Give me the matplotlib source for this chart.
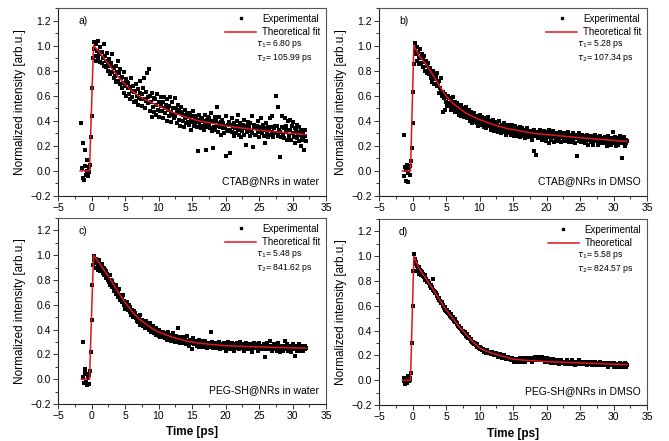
import matplotlib
matplotlib.use("Agg")
import matplotlib.pyplot as plt
from matplotlib.lines import Line2D
from matplotlib.ticker import MultipleLocator
import numpy as np

plt.rcParams['font.family'] = ['Liberation Sans', 'DejaVu Sans']

# time grid of the pump-probe scans, -1.5 ... 32.0 ps in 0.1 ps steps
t_exp = np.round(np.arange(-1.5, 32.05, 0.1), 2)

# experimental points (hundredths of normalized intensity), one row per ps
exp_a = """
38 2 -6 22 -7 17 4 -3 9 0
-4 3 -1 5 27 44 66 90 97 103
92 101 88 96 104 90 93 99 87 95
95 86 90 101 84 92 88 83 94 86
80 89 84 77 86 93 79 83 74 82
76 84 71 79 88 72 78 69 81 74
66 75 70 62 79 68 73 60 71 66
70 61 67 57 74 64 59 68 63 55
64 56 69 60 53 65 58 72 62 57
61 52 66 57 74 50 63 56 78 59
54 81 48 60 55 43 62 51 58 47
57 45 53 61 49 43 55 48 59 52
48 55 42 59 50 46 53 40 57 49
52 44 59 47 39 55 45 50 42 58
44 50 38 47 53 41 49 36 46 51
47 40 45 35 49 42 38 46 43 39
43 37 46 40 33 44 39 48 36 41
38 44 35 41 16 39 45 36 42 34
42 36 40 33 45 38 17 41 35 43
37 42 34 39 46 32 18 40 35 43
33 40 36 51 31 38 43 35 29 39
41 34 38 30 36 12 44 33 37 32
39 33 14 37 42 31 35 28 38 34
36 30 40 33 45 29 35 38 27 34
32 37 29 41 34 21 36 31 39 33
35 28 38 32 44 30 19 34 37 29
34 29 36 40 31 27 35 33 42 30
31 37 28 34 22 33 38 30 35 27
33 42 29 35 31 44 27 34 30 36
60 30 36 28 51 33 11 31 27 35
44 29 34 26 42 31 36 25 33 40
28 41 33 25 36 30 39 27 34 22
32 26 37 29 24 35 31 20 33 27
25 31 17 28 33 24
"""

exp_b = """
nan nan 29 -4 3 -8 1 5 -2 -9
2 -3 4 8 18 38 63 85 96 102
93 99 88 95 90 85 97 91 86 93
90 83 92 87 80 88 84 78 86 81
77 82 74 79 71 80 76 69 78 73
75 68 78 70 62 72 66 74 63 60
47 63 58 49 61 55 59 52 60 54
58 52 56 49 54 59 50 53 47 55
50 54 47 52 45 51 48 53 44 49
46 50 43 48 45 51 42 47 44 49
44 40 47 42 38 45 41 46 39 43
41 38 44 36 42 39 45 37 40 43
37 41 35 42 38 34 40 36 43 38
36 40 33 38 35 41 37 32 39 36
34 38 31 36 40 33 35 30 37 34
35 31 38 33 29 36 34 37 30 33
32 35 29 34 37 31 33 28 36 32
30 34 28 33 31 35 27 32 29 34
31 28 33 26 32 30 34 27 31 29
29 32 27 31 25 30 33 16 28 30
13 28 31 26 30 33 27 29 25 31
30 26 32 28 24 29 31 27 33 22
28 31 25 29 27 32 23 28 30 26
27 30 24 29 26 31 28 23 27 30
28 25 30 24 27 29 26 31 23 28
26 29 23 28 25 30 27 22 26 29
27 12 28 24 30 25 26 23 29 24
25 28 22 27 24 29 26 21 27 25
26 23 28 24 27 21 25 29 24 26
24 27 21 26 23 28 25 22 26 24
25 22 27 23 26 20 24 28 23 25
23 26 21 25 31 24 22 27 20 24
24 21 26 22 25 28 23 10 25 22
27 23 20 25 22 24
"""

exp_c = """
nan nan 30 2 -3 5 8 -2 4 -5
1 -4 3 7 22 48 76 92 99 96
94 97 90 95 92 88 96 91 87 93
89 93 86 90 84 88 82 87 85 80
82 78 84 76 80 74 79 77 71 76
73 76 69 72 70 66 73 68 64 67
65 62 68 60 63 57 61 59 62 56
57 60 54 58 52 56 53 50 55 51
53 49 51 47 50 46 49 52 44 48
46 48 43 47 45 41 44 47 42 45
43 40 45 41 38 42 39 43 37 40
38 41 36 39 37 35 40 34 38 36
37 34 38 35 33 37 36 32 35 38
33 36 34 31 35 33 37 32 34 30
32 35 30 33 41 31 34 29 33 31
31 34 29 32 30 33 28 31 35 30
30 27 32 29 31 24 30 33 28 30
29 31 27 30 28 32 26 29 31 28
28 30 26 29 27 31 28 25 29 27
29 26 28 38 27 30 25 28 26 29
27 29 25 28 26 30 27 24 28 26
28 25 27 29 26 23 28 26 30 27
26 28 24 27 29 25 27 23 28 26
27 25 29 26 28 24 27 30 25 26
25 28 26 23 27 29 24 27 26 28
26 24 28 25 22 27 26 29 25 27
27 25 28 23 26 29 24 27 25 26
24 27 25 28 18 26 24 29 25 27
26 24 31 25 27 23 26 28 24 26
25 27 23 26 29 24 26 22 27 25
26 23 27 25 31 24 26 28 23 25
24 27 25 22 26 28 24 26 19 25
25 23 27 24 26 28 23 25 27 24
26 23 25 27 24 25
"""

exp_d = """
nan nan -1 2 -3 1 0 -2 3 1
-1 2 0 6 30 60 88 102 98 94
95 88 92 90 86 91 89 85 88 87
86 84 83 85 81 82 80 79 80 78
78 76 77 74 75 82 73 72 71 70
70 68 69 66 65 66 64 63 62 63
61 60 58 59 57 56 57 55 54 55
53 52 53 51 50 51 49 48 49 47
47 45 46 44 43 44 42 41 42 40
40 39 38 39 37 36 37 35 34 35
34 33 32 33 31 30 31 29 30 29
28 29 27 27 26 27 25 26 25 24
25 23 24 24 22 23 24 22 23 22
23 22 21 22 23 21 22 20 21 22
21 20 21 19 20 21 19 20 18 19
19 18 20 18 19 17 18 19 17 18
17 18 16 17 18 16 17 15 17 16
16 17 15 17 16 18 16 15 17 16
17 16 18 15 17 16 17 18 16 17
16 18 17 15 17 18 16 17 19 16
17 18 16 19 17 16 18 17 19 16
17 16 18 15 17 16 18 16 15 17
15 16 14 16 15 17 15 14 16 15
15 14 16 15 13 15 16 14 15 14
14 15 13 15 14 16 14 13 15 14
15 13 14 16 14 13 15 14 12 14
14 15 13 14 16 13 14 15 13 14
13 14 15 13 14 12 14 15 13 14
14 13 15 12 14 13 14 12 15 13
13 14 12 14 13 15 12 13 14 12
13 12 14 13 12 14 13 11 13 14
12 14 13 12 13 11 14 12 13 12
13 12 11 13 12 14 12 13 11 12
13 12 14 11 13 12
"""

# theoretical fit curves
fit_t_a = [-1.7, -0.3, 0.3, 1, 2, 3, 4, 5, 6, 7, 8, 10, 12, 14, 16, 18, 20, 22, 25, 28, 32]
fit_y_a = [0, 0, 1.0, 0.96, 0.89, 0.82, 0.75, 0.69, 0.64, 0.60, 0.57, 0.52, 0.47, 0.43,
           0.40, 0.38, 0.36, 0.345, 0.325, 0.31, 0.29]
fit_t_b = [-1.5, -0.3, 0.2, 1, 2, 3, 4, 5, 6, 7, 8, 10, 12, 14, 16, 18, 20, 25, 32]
fit_y_b = [0, 0, 1.0, 0.92, 0.85, 0.77, 0.68, 0.60, 0.54, 0.50, 0.46, 0.41, 0.37, 0.34,
           0.32, 0.30, 0.29, 0.265, 0.235]
fit_t_c = [-1.5, -0.3, 0.3, 1, 2, 3, 4, 5, 6, 7, 8, 9, 10, 12, 14, 16, 18, 20, 25, 32]
fit_y_c = [0, 0, 1.0, 0.95, 0.87, 0.79, 0.70, 0.62, 0.55, 0.49, 0.45, 0.41, 0.38, 0.34,
           0.31, 0.29, 0.28, 0.27, 0.26, 0.25]
fit_t_d = [-1.5, -0.3, 0.2, 1, 2, 3, 4, 5, 6, 7, 8, 9, 10, 11, 12, 13, 14, 15, 17, 20, 25, 32]
fit_y_d = [0, 0, 1.0, 0.90, 0.82, 0.74, 0.65, 0.57, 0.50, 0.43, 0.37, 0.31, 0.26, 0.235,
           0.215, 0.20, 0.185, 0.17, 0.16, 0.15, 0.14, 0.125]

panel_tags = ['a)', 'b)', 'c)', 'd)']
samples = ['CTAB@NRs in water', 'CTAB@NRs in DMSO', 'PEG-SH@NRs in water', 'PEG-SH@NRs in DMSO']
fit_names = ['Theoretical fit', 'Theoretical fit', 'Theoretical fit', 'Theoretical']
tau1 = ['6.80', '5.28', '5.48', '5.58']
tau2 = ['105.99', '107.34', '841.62', '824.57']

exp_all = [exp_a, exp_b, exp_c, exp_d]
fits = [(fit_t_a, fit_y_a), (fit_t_b, fit_y_b), (fit_t_c, fit_y_c), (fit_t_d, fit_y_d)]

fig = plt.figure(figsize=(6.69, 4.41), dpi=100)
W, H = 669, 441
boxes = [(58, 8, 326, 196), (379, 8, 647, 196), (58, 218, 326, 404), (379, 219, 647, 405)]

for i in range(4):
    x0, y0, x1, y1 = boxes[i]
    ax = fig.add_axes([x0 / W, 1 - y1 / H, (x1 - x0) / W, (y1 - y0) / H])
    y = np.array(exp_all[i].split(), dtype=float) / 100
    ax.plot(t_exp, y, 's', color='black', ms=2.3, mew=0, zorder=2)
    ax.plot(fits[i][0], fits[i][1], color='#e0141e', lw=1.1, zorder=3)

    ax.set_xlim(-5, 35)
    ax.set_ylim(-0.2, 1.3)
    ax.xaxis.set_major_locator(MultipleLocator(5))
    ax.xaxis.set_minor_locator(MultipleLocator(2.5))
    ax.set_yticks([-0.2, 0.0, 0.2, 0.4, 0.6, 0.8, 1.0, 1.2])
    ax.yaxis.set_minor_locator(MultipleLocator(0.1))
    ax.tick_params(which='both', direction='out', top=False, right=False, labelsize=7.5,
                   width=0.7, color='#333333', pad=1.5)
    ax.tick_params(which='major', length=3.5)
    ax.tick_params(which='minor', length=2)
    for s in ax.spines.values():
        s.set_linewidth(0.8)
        s.set_color('#555555')
    ax.spines['left'].set_color('#222222')
    ax.spines['bottom'].set_color('#222222')

    ax.set_ylabel('Normalized intensity [arb.u.]', fontsize=8.5, labelpad=3)
    if i >= 2:
        ax.set_xlabel('Time [ps]', fontsize=8.5, fontweight='bold', labelpad=4)

    ax.text(0.075, 0.955, panel_tags[i], transform=ax.transAxes, fontsize=7.5, va='top')
    ax.text(0.975, 0.05, samples[i], transform=ax.transAxes, fontsize=7.5, ha='right', va='bottom')

    handles = [Line2D([], [], ls='none', marker='s', ms=2, color='black'),
               Line2D([], [], color='#e0141e', lw=1.1)]
    ax.legend(handles, ['Experimental', fit_names[i]], loc='upper right', frameon=False,
              fontsize=7, handlelength=3.2, handletextpad=0.6, borderaxespad=0.2,
              labelspacing=0.35)
    ax.text(0.74, 0.84, r'$\tau_1$= ' + tau1[i] + ' ps', transform=ax.transAxes, fontsize=6.2, va='top')
    ax.text(0.74, 0.765, r'$\tau_2$= ' + tau2[i] + ' ps', transform=ax.transAxes, fontsize=6.2, va='top')

fig.savefig('out.png', dpi=100)
